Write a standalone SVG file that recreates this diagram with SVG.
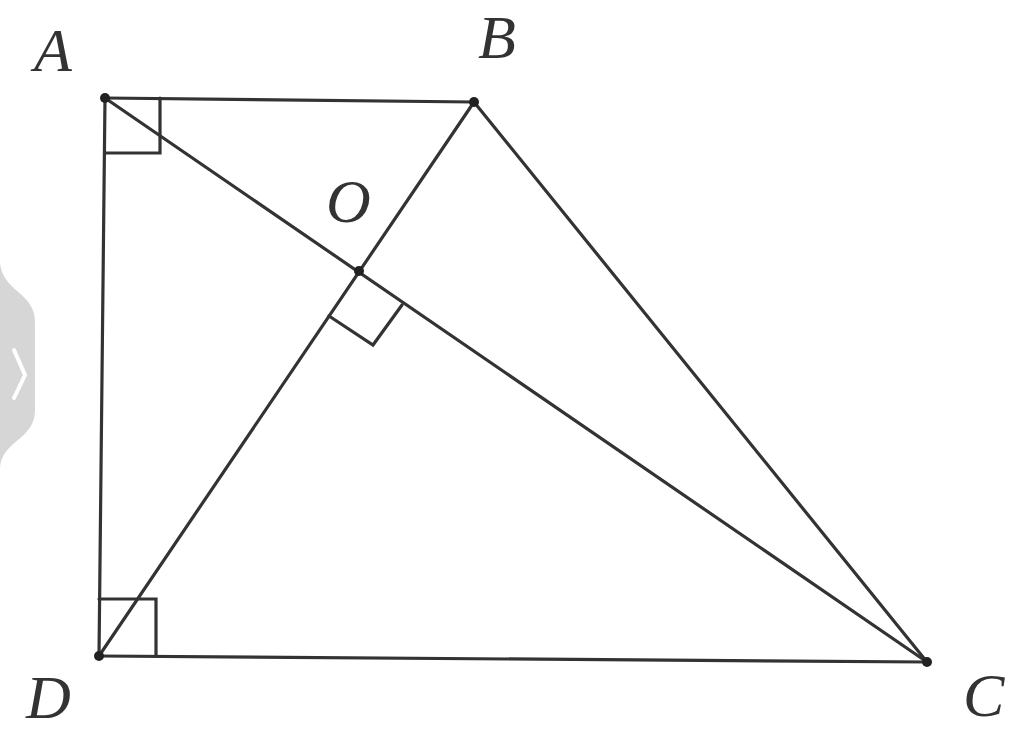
<svg xmlns="http://www.w3.org/2000/svg" width="1024" height="734" viewBox="0 0 1024 734">
<style>
.ln{stroke:#333;stroke-width:3.2;fill:none;stroke-linecap:round}
.dot{fill:#222}
.lbl{font-family:"Liberation Serif","Times New Roman",serif;font-style:italic;font-size:62px;fill:#333}
</style>
<rect width="1024" height="734" fill="#fff"/>
<g id="tab">
<path d="M0,262 C2,292 35,292 35,322 L35,410 C35,440 2,440 0,468 Z" fill="#d6d6d6"/>
<path d="M14,350 L25,375 L14,398" stroke="#fff" stroke-width="4" fill="none" stroke-linecap="round"/>
</g>
<g id="connectors">
<line class="ln" x1="105" y1="98" x2="474" y2="102"/>
<line class="ln" x1="105" y1="98" x2="99" y2="656"/>
<line class="ln" x1="99" y1="656" x2="927" y2="662"/>
<line class="ln" x1="474" y1="102" x2="927" y2="662"/>
<line class="ln" x1="105" y1="98" x2="927" y2="662"/>
<line class="ln" x1="474" y1="102" x2="99" y2="656"/>
<polyline class="ln" points="105,153 160,153 160,98"/>
<polyline class="ln" points="99,599 156,599 156,656"/>
<polyline class="ln" points="329,316 373,345 402,305"/>
</g>
<g id="A"><circle class="dot" cx="105" cy="98" r="5"/><text class="lbl" x="34" y="71">A</text></g>
<g id="B"><circle class="dot" cx="474" cy="102" r="5"/><text class="lbl" x="478" y="58">B</text></g>
<g id="O"><circle class="dot" cx="359" cy="271" r="5"/><text class="lbl" x="326" y="222">O</text></g>
<g id="D"><circle class="dot" cx="99" cy="656" r="5"/><text class="lbl" x="26" y="718">D</text></g>
<g id="C"><circle class="dot" cx="927" cy="662" r="5"/><text class="lbl" x="963" y="716">C</text></g>
</svg>
